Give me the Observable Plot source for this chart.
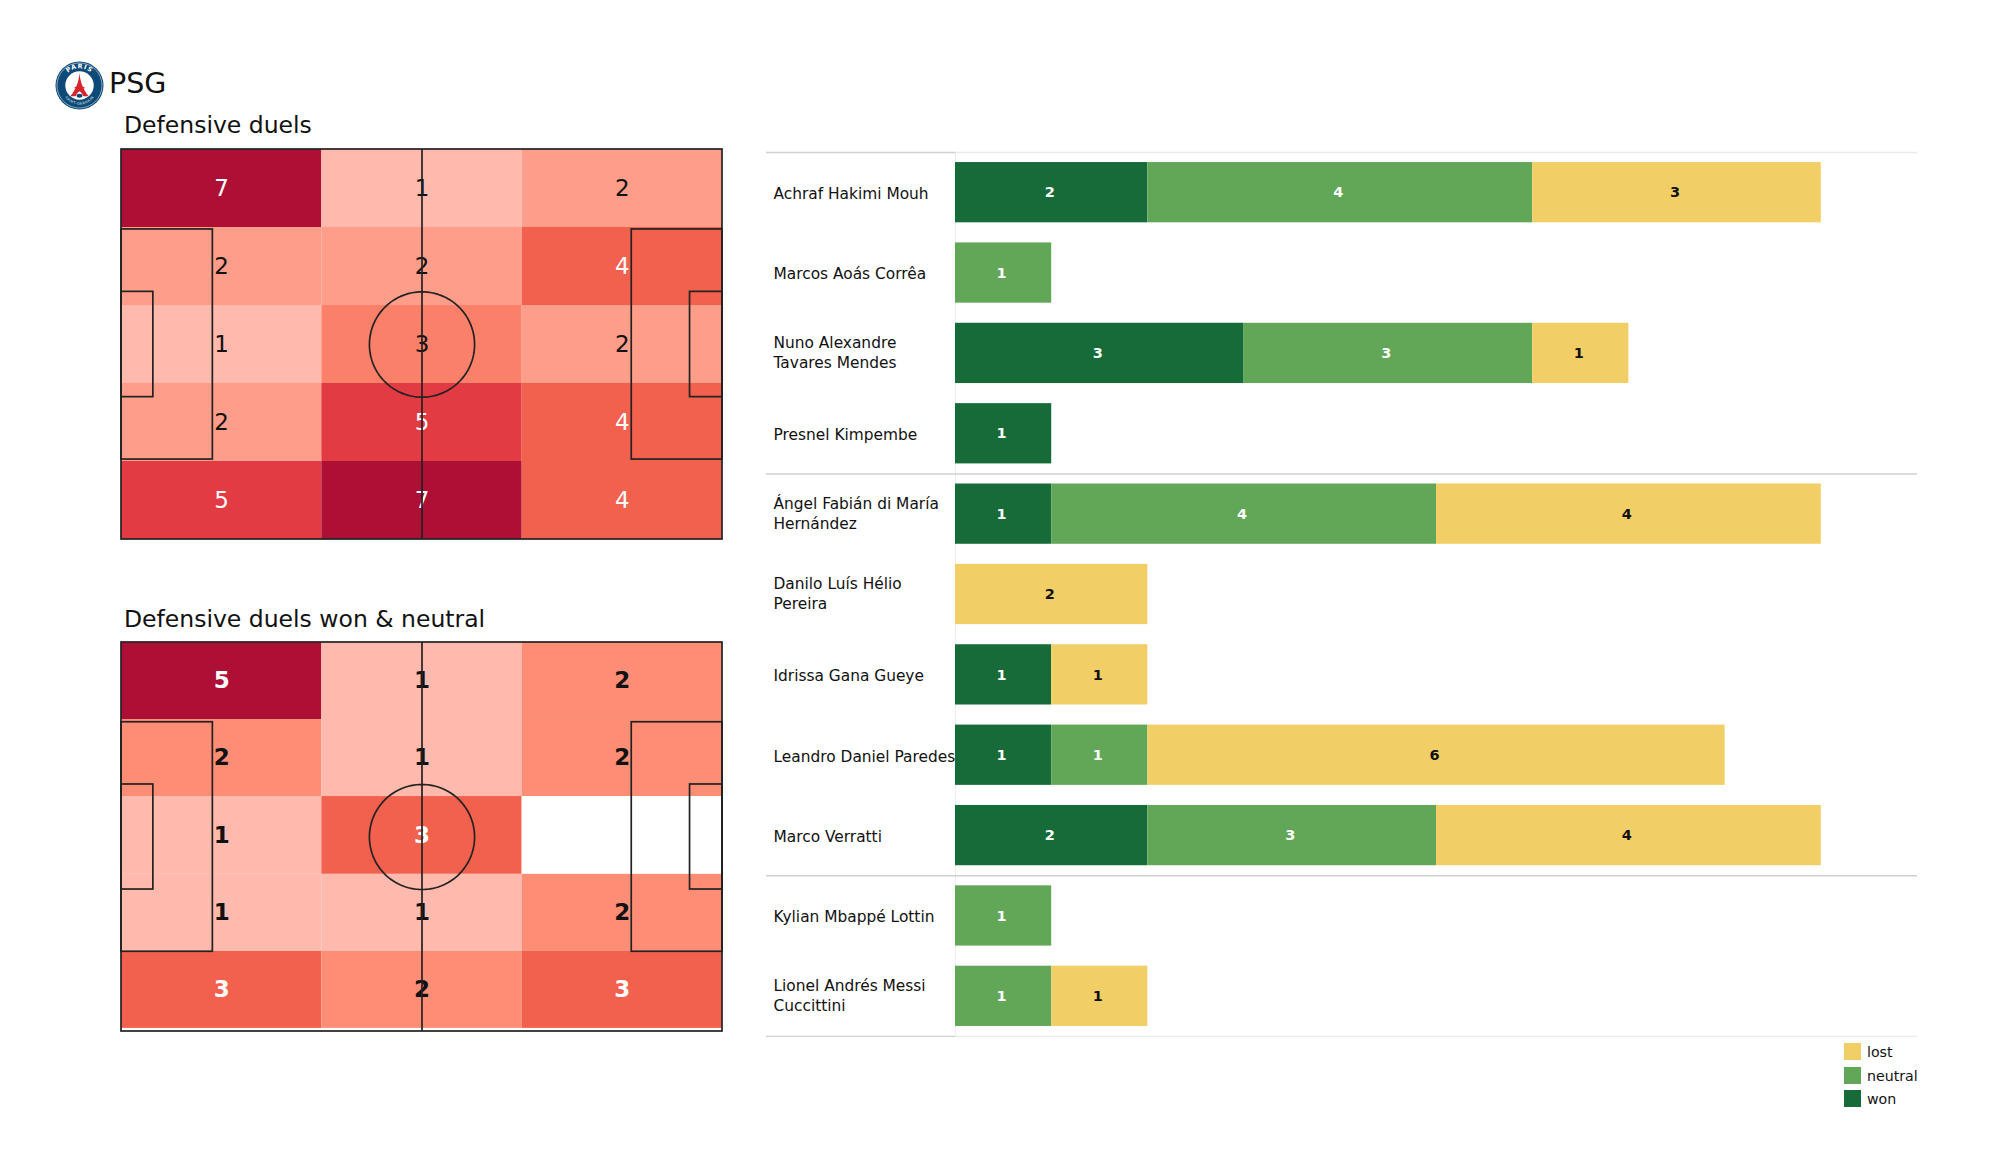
<!DOCTYPE html>
<html>
<head>
<meta charset="utf-8">
<script src="https://cdn.jsdelivr.net/npm/d3@7"></script>
<script src="https://cdn.jsdelivr.net/npm/@observablehq/plot@0.6"></script>
<style>
  html, body { margin: 0; padding: 0; background: #fff; }
  #page { position: relative; width: 2000px; height: 1175px; overflow: hidden; font-family: "DejaVu Sans", sans-serif; color: #111; }
  #page > * { position: absolute; }
  .t { white-space: nowrap; line-height: 1; }
</style>
</head>
<body>
<div id="page">
  <svg style="left:54px;top:61px" width="51" height="49" viewBox="0 0 100 100">
    <circle cx="50" cy="50" r="49" fill="#0e4a78"/>
    <circle cx="50" cy="50" r="46" fill="none" stroke="#dfe8ef" stroke-width="1.2"/>
    <circle cx="50" cy="50" r="29" fill="#fff"/>
    <path id="arcT" d="M 15 50 A 35 35 0 0 1 85 50" fill="none"/>
    <text font-family="DejaVu Sans" font-weight="bold" font-size="13" fill="#fff" letter-spacing="2"><textPath href="#arcT" startOffset="50%" text-anchor="middle">PARIS</textPath></text>
    <path d="M50 24 C 51 42 58 60 69 72 L 58 72 C 55 65 52 62 50 62 C 48 62 45 65 42 72 L 31 72 C 42 60 49 42 50 24 Z" fill="#d8232f"/>
    <rect x="40" y="53" width="20" height="3" fill="#d8232f"/>
    <ellipse cx="50" cy="71" rx="6" ry="4" fill="#0e4a78"/>
    <path id="arcB" d="M 13 52 A 37 37 0 0 0 87 52" fill="none"/>
    <text font-family="DejaVu Sans" font-size="7" fill="#dfe8ef" letter-spacing="1"><textPath href="#arcB" startOffset="50%" text-anchor="middle">SAINT-GERMAIN</textPath></text>
  </svg>
  <div class="t" style="left:109px;top:70px;font-size:28.5px">PSG</div>
  <div class="t" style="left:124px;top:114px;font-size:23.5px">Defensive duels</div>
  <div class="t" style="left:124px;top:608px;font-size:23.5px">Defensive duels won &amp; neutral</div>
</div>
<script>
// ---- heat maps: rows top to bottom, columns left to right
const duelsRows = [[7, 1, 2], [2, 2, 4], [1, 3, 2], [2, 5, 4], [5, 7, 4]];
const wonNeutralRows = [[5, 1, 2], [2, 1, 2], [1, 3, 0], [1, 1, 2], [3, 2, 3]];
const duelsLevels = [1, 2, 3, 4, 5, 7];
const duelsColours = ["#ffb9ad", "#fe9e8a", "#fb8069", "#f2604e", "#e23b43", "#ae1035"];
const wonNeutralLevels = [0, 1, 2, 3, 5];
const wonNeutralColours = ["#ffffff", "#ffb9ad", "#fd8d75", "#f2604e", "#ae1035"];
const columnEdges = [0, 100 / 3, 200 / 3, 100];
const duelsRowEdges = [0, 20, 40, 60, 80, 100];
const wonNeutralRowEdges = [0, 19.8, 39.6, 59.6, 79.4, 99.2];

// ---- pitch markings, in pitch percent
const pitchBoxes = [
  {x1: 0, x2: 100, y1: 0, y2: 100},
  {x1: 0, x2: 15.2, y1: 20.5, y2: 79.5},
  {x1: 84.9, x2: 100, y1: 20.5, y2: 79.5},
  {x1: 0, x2: 5.3, y1: 36.5, y2: 63.5},
  {x1: 94.6, x2: 100, y1: 36.5, y2: 63.5}
];
const halfwayLine = [50];
const circleRadius = {x: 8.75, y: 13.5};

// ---- bars
const players = [
  "Achraf Hakimi Mouh", "Marcos Aoás Corrêa", "Nuno Alexandre\nTavares Mendes", "Presnel Kimpembe",
  "Ángel Fabián di María\nHernández", "Danilo Luís Hélio\nPereira", "Idrissa Gana Gueye",
  "Leandro Daniel Paredes", "Marco Verratti", "Kylian Mbappé Lottin", "Lionel Andrés Messi\nCuccittini"
];
const won     = [2, 0, 3, 1, 1, 0, 1, 1, 2, 0, 0];
const neutral = [4, 1, 3, 0, 4, 0, 0, 1, 3, 1, 1];
const lost    = [3, 0, 1, 0, 4, 2, 1, 6, 4, 0, 1];
const outcomes = ["won", "neutral", "lost"];
const outcomeColours = ["#166b38", "#62a758", "#f2cf66"];
const groupEnds = ["Presnel Kimpembe", "Marco Verratti"];
const legendOrder = ["lost", "neutral", "won"];

const FONT = "DejaVu Sans";
const page = document.getElementById("page");
function place(node, left, top) {
  node.style.position = "absolute";
  node.style.left = left + "px";
  node.style.top = top + "px";
  page.appendChild(node);
}

function pitchPlot(rows, rowEdges, levels, colours, whiteFrom, weight, plotHeight) {
  const cells = rows.flatMap((row, r) => row.map((value, c) => ({
    value, x1: columnEdges[c], x2: columnEdges[c + 1], y1: rowEdges[r], y2: rowEdges[r + 1]
  })));
  const circle = d3.range(0, 361, 3).map(a => ({
    x: 50 + circleRadius.x * Math.cos(a * Math.PI / 180),
    y: 50 + circleRadius.y * Math.sin(a * Math.PI / 180)
  }));
  const centre = d => ({...d, cx: (d.x1 + d.x2) / 2, cy: (d.y1 + d.y2) / 2});
  const labelled = cells.filter(d => d.value > 0).map(centre);
  const line = {stroke: "#222222", strokeWidth: 1.7};
  return Plot.plot({
    width: 605, height: plotHeight,
    marginTop: 2, marginBottom: 2, marginLeft: 2, marginRight: 2,
    style: {fontFamily: FONT, background: "transparent"},
    x: {domain: [0, 100], axis: null},
    y: {domain: [0, 100], reverse: true, axis: null},
    color: {type: "ordinal", domain: levels, range: colours},
    marks: [
      Plot.rect(cells, {x1: "x1", x2: "x2", y1: "y1", y2: "y2", fill: "value"}),
      Plot.text(labelled.filter(d => d.value < whiteFrom), {x: "cx", y: "cy", text: "value", fill: "#111", fontSize: 23, fontWeight: weight}),
      Plot.text(labelled.filter(d => d.value >= whiteFrom), {x: "cx", y: "cy", text: "value", fill: "#fff", fontSize: 23, fontWeight: weight}),
      Plot.rect(pitchBoxes, {x1: "x1", x2: "x2", y1: "y1", y2: "y2", fill: "none", ...line}),
      Plot.ruleX(halfwayLine, line),
      Plot.line(circle, {x: "x", y: "y", ...line, curve: "linear"})
    ]
  });
}

place(pitchPlot(duelsRows, duelsRowEdges, duelsLevels, duelsColours, 4, "normal", 394), 119, 147);
place(pitchPlot(wonNeutralRows, wonNeutralRowEdges, wonNeutralLevels, wonNeutralColours, 3, "bold", 393), 119, 640);

// ---- stacked bars
const segments = outcomes.flatMap((outcome, k) => {
  const values = [won, neutral, lost][k];
  return players.map((player, i) => ({player, outcome, value: values[i]})).filter(d => d.value > 0);
});
const H = 884, STEP = H / players.length;
const stacked = Plot.stackX({x: "value", y: "player", z: "outcome", order: outcomes});
const nameAxis = {anchor: "left", tickSize: 0, tickPadding: 0, textAnchor: "start", dx: -182,
  fontSize: 15.4, lineHeight: 1.3, fill: "#111", label: null, textOverflow: null};
const bars = Plot.plot({
  width: 1151, height: H + 2,
  marginTop: 1, marginBottom: 1, marginLeft: 189, marginRight: 0,
  style: {fontFamily: FONT, background: "transparent"},
  x: {domain: [0, 10], axis: null},
  y: {domain: players, axis: null, paddingInner: 0.25, paddingOuter: 0.125, align: 0.5, round: false},
  color: {domain: outcomes, range: outcomeColours},
  marks: [
    Plot.ruleX([0], {stroke: "#eeeeee", strokeWidth: 1}),
    Plot.ruleY([players[0]], {y: d => d, dy: -STEP / 2, stroke: "#ebebeb", strokeWidth: 1.3}),
    Plot.ruleY([players[players.length - 1]], {y: d => d, dy: STEP / 2, stroke: "#ebebeb", strokeWidth: 1.3}),
    Plot.ruleY([players[0]], {y: d => d, x1: 0, x2: 0, insetLeft: -189, dy: -STEP / 2, stroke: "#d0d0d0", strokeWidth: 1.3}),
    Plot.ruleY([players[players.length - 1]], {y: d => d, x1: 0, x2: 0, insetLeft: -189, dy: STEP / 2, stroke: "#d0d0d0", strokeWidth: 1.3}),
    Plot.ruleY(groupEnds, {y: d => d, insetLeft: -189, dy: STEP / 2, stroke: "#d0d0d0", strokeWidth: 1.5}),
    Plot.barX(segments, {...stacked, fill: "outcome"}),
    Plot.text(segments, Plot.stackX({
      x: "value", y: "player", z: "outcome", order: outcomes, text: "value",
      fill: d => d.outcome === "lost" ? "#111" : "#fff",
      fontSize: 14.5, fontWeight: "bold", dx: -2
    })),
    Plot.axisY({...nameAxis, ticks: players.filter(p => !p.includes("\n"))}),
    Plot.axisY({...nameAxis, ticks: players.filter(p => p.includes("\n")), dy: -1.5})
  ]
});
place(bars, 766, 151);

// ---- legend
const legendRows = [1043, 1067, 1090];
legendOrder.forEach((name, i) => {
  const swatch = document.createElement("div");
  swatch.style.cssText = `width:17px;height:17px;background:${outcomeColours[outcomes.indexOf(name)]}`;
  place(swatch, 1844, legendRows[i]);
  const label = document.createElement("div");
  label.className = "t";
  label.style.fontSize = "14.2px";
  label.textContent = name;
  place(label, 1867, legendRows[i] + 2);
});
</script>
</body>
</html>
